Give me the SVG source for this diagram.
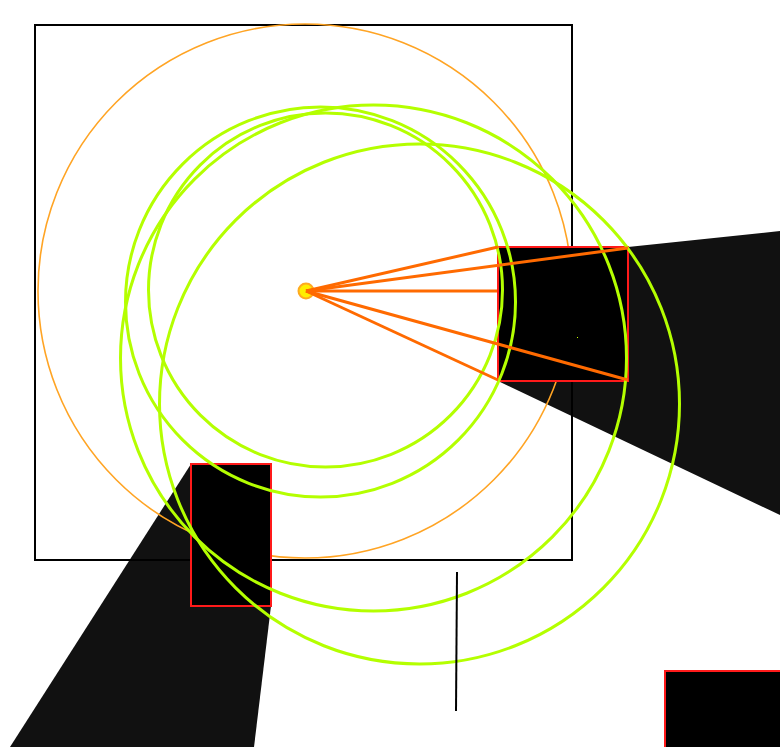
<svg xmlns="http://www.w3.org/2000/svg" width="780" height="747" viewBox="0 0 780 747">
<style>
.shadow{fill:#111111;stroke:none}
.obst{fill:#000000;stroke:#ff1a1a;stroke-width:2}
.ring{fill:none;stroke:#b4ff00;stroke-width:3}
.ray{stroke:#ff6a00;stroke-width:3;fill:none}
</style>
<rect x="0" y="0" width="780" height="747" fill="#ffffff"/>
<g id="shadows">
<polygon class="shadow" points="628,247 780,231 780,515 498,381 628,381"/>
<polygon class="shadow" points="191,464 10,747 254,747 271,606"/>
</g>
<g id="bounds"><rect x="35" y="25" width="537" height="535" fill="none" stroke="#000" stroke-width="2"/></g>
<g id="range"><circle cx="305" cy="291" r="267" fill="none" stroke="#ffa424" stroke-width="1.6"/></g>
<g id="obstacle1"><rect class="obst" x="498" y="247" width="130" height="134"/></g>
<g id="obstacle2"><rect class="obst" x="191" y="464" width="80" height="142"/></g>
<g id="obstacle3"><rect class="obst" x="665" y="671" width="120" height="90"/></g>
<g id="rings">
<circle class="ring" cx="325.5" cy="290" r="177"/>
<circle class="ring" cx="320.5" cy="302" r="195"/>
<circle class="ring" cx="373.5" cy="358" r="253"/>
<circle class="ring" cx="419.5" cy="404" r="260"/>
</g>
<g id="light"><circle cx="306" cy="291" r="7.5" fill="#ffee00" stroke="#ffaa20" stroke-width="2"/></g>
<g id="connectors">
<line class="ray" x1="306" y1="291" x2="498" y2="247"/>
<line class="ray" x1="306" y1="291" x2="628" y2="248"/>
<line class="ray" x1="306" y1="291" x2="497" y2="291"/>
<line class="ray" x1="306" y1="291" x2="628" y2="380"/>
<line class="ray" x1="306" y1="291" x2="498" y2="380"/>
</g>
<g id="wall"><line x1="457" y1="572" x2="456" y2="711" stroke="#000" stroke-width="2"/></g>
<g id="marker"><rect x="577" y="337" width="1" height="1" fill="#c8ff00"/></g>
</svg>
